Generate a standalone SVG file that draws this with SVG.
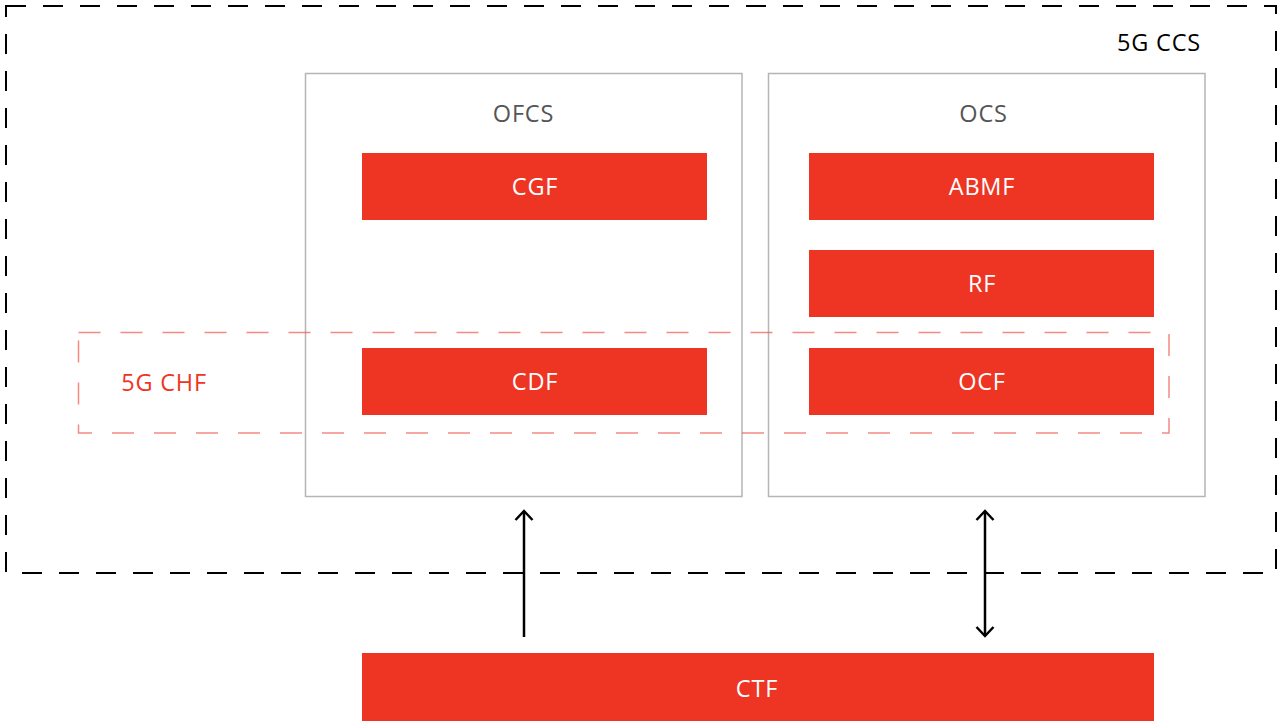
<svg xmlns="http://www.w3.org/2000/svg" width="1279" height="721" viewBox="0 0 1279 721">
<style>
text{font-family:"Open Sans","Liberation Sans",sans-serif;font-size:23.5px;letter-spacing:0.8px;text-anchor:middle;dominant-baseline:central}
.fn rect{fill:#ee3524}
.fn text{fill:#fff}
.sys rect{fill:#fff;stroke:#b5b5b5;stroke-width:1.5}
.sys text{fill:#555}
.conn line{stroke:#000;stroke-width:2.5;fill:none}
</style>
<defs>
<marker id="ah" viewBox="0 0 20 20" refX="18" refY="10" markerWidth="20" markerHeight="20" markerUnits="userSpaceOnUse" orient="auto-start-reverse">
<path d="M9,1.5 L18,10 L9,18.5" fill="none" stroke="#000" stroke-width="2.5"/>
</marker>
</defs>
<rect x="0" y="0" width="1279" height="721" fill="#fff"/>
<g id="ccs">
<rect x="6" y="6" width="1270" height="567" fill="none" stroke="#000" stroke-width="2" stroke-dasharray="20 17"/>
<text x="1159" y="42" fill="#000">5G CCS</text>
</g>
<g id="ofcs" class="sys">
<rect x="305.5" y="73.5" width="436.5" height="423"/>
<text x="523.5" y="113">OFCS</text>
</g>
<g id="ocs" class="sys">
<rect x="768.5" y="73.5" width="436.5" height="423"/>
<text x="983.5" y="113">OCS</text>
</g>
<g id="cgf" class="fn"><rect x="362" y="153" width="345" height="67"/><text x="535" y="186">CGF</text></g>
<g id="abmf" class="fn"><rect x="809" y="153" width="345" height="67"/><text x="982" y="186">ABMF</text></g>
<g id="rf" class="fn"><rect x="809" y="250" width="345" height="67"/><text x="982" y="283">RF</text></g>
<g id="cdf" class="fn"><rect x="362" y="348" width="345" height="67"/><text x="535" y="381">CDF</text></g>
<g id="ocf" class="fn"><rect x="809" y="348" width="345" height="67"/><text x="982" y="381">OCF</text></g>
<g id="chf">
<rect x="78.5" y="332.5" width="1090.5" height="100.5" fill="none" stroke="#f0594c" stroke-opacity="0.7" stroke-width="1.5" stroke-dasharray="22 20"/>
<text x="164" y="382" fill="#ee3524">5G CHF</text>
</g>
<g id="ctf" class="fn"><rect x="362" y="653" width="792" height="68"/><text x="757" y="688">CTF</text></g>
<g class="conn">
<line x1="524" y1="637" x2="524" y2="511" marker-end="url(#ah)"/>
<line x1="985" y1="511" x2="985" y2="636" marker-start="url(#ah)" marker-end="url(#ah)"/>
</g>
</svg>
